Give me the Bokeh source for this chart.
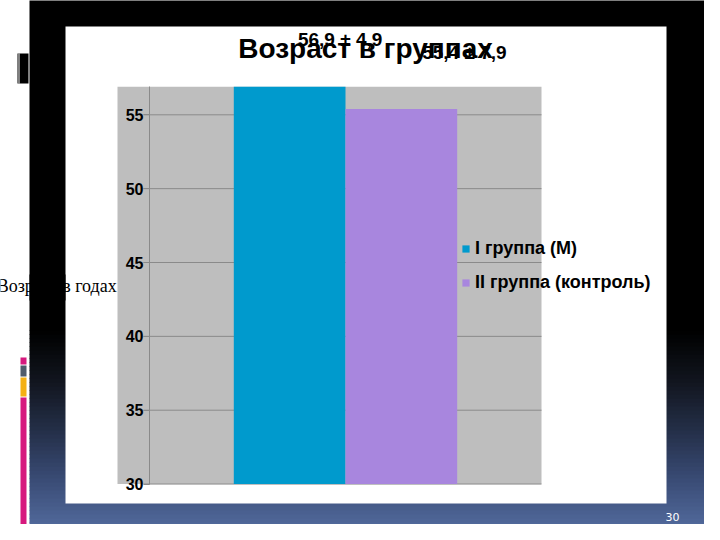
from bokeh.plotting import figure
from bokeh.models import (Range1d, LinearAxis, FixedTicker, Label, Legend, LegendItem,
                          ColumnDataSource)
from bokeh.core.properties import value
from bokeh.embed import file_html
from bokeh.resources import INLINE

# ---------------- data ----------------
groups = ["I группа (М)", "II группа (контроль)"]
mean_age = [56.9, 55.4]
value_labels = ["56,9 ± 4,9", "55,4 ± 7,9"]
bar_colors = ["#009acd", "#a886de"]
y_ticks = [30, 35, 40, 45, 50, 55]
chart_title = "Возраст в группах"
y_axis_title = "Возраст в годах"
page_number = "30"

# ---------------- layout (reference pixels) ----------------
W, H, OFF = 704, 524, 0
SX = 111.7            # px per category step
SY = 14.77            # px per year
X_ANCHOR_PX = 289.15  # centre of first category
Y_ANCHOR_PX = 114.3   # pixel of y = 55
X0 = 1 - (X_ANCHOR_PX - OFF) / SX
X1 = X0 + W / SX
Y1 = 55 + (Y_ANCHOR_PX - OFF) / SY
Y0 = Y1 - H / SY
LABEL_DX = [50.5, 63]      # label placement offsets (px)
LABEL_DY = [-47.7, -56.2]


def fx(px):
    return X0 + (px - OFF) / SX


def fy(py):
    return Y1 - (py - OFF) / SY


SANS = "Liberation Sans"

p = figure(width=W, height=H, x_range=Range1d(X0, X1), y_range=Range1d(Y0, Y1),
           x_axis_type=None, y_axis_type=None, toolbar_location=None,
           output_backend="svg", min_border=0, outline_line_color=None,
           background_fill_color="white", border_fill_color="white")

# ---------------- slide background ----------------
stops = [(0, (0, 0, 0)), (330, (0, 0, 0)), (380, (17, 21, 30)), (430, (36, 47, 72)),
         (480, (58, 76, 118)), (540, (88, 114, 166))]


def grad(y):
    for (ya, ca), (yb, cb) in zip(stops[:-1], stops[1:]):
        if ya <= y <= yb:
            t = (y - ya) / (yb - ya)
            c = [round(a + (b - a) * t) for a, b in zip(ca, cb)]
            return "#%02x%02x%02x" % tuple(c)
    return "#%02x%02x%02x" % stops[-1][1]


g_top, g_bot, g_col = [fy(-2)], [fy(330.5)], ["#000000"]
yy = 330
while yy < 526:
    g_top.append(fy(yy))
    g_bot.append(fy(min(yy + 4.6, 527)))
    g_col.append(grad(yy + 2))
    yy += 4
bg = p.quad(left=fx(29), right=fx(706), top=g_top, bottom=g_bot,
            fill_color=g_col, line_color=None)
bg.level = "image"

# left side decorations
deco = p.quad(left=[fx(17), fx(18), fx(20), fx(20), fx(20), fx(20)],
              right=[fx(28), fx(19), fx(26), fx(26), fx(26), fx(26)],
              top=[fy(53), fy(53), fy(357), fy(365), fy(377), fy(397)],
              bottom=[fy(83), fy(83), fy(364), fy(376), fy(396), fy(531)],
              fill_color=["#000000", "#ffffff", "#d6197e", "#4f5b6b", "#f4b013", "#d6197e"],
              line_color=None)
deco.level = "image"

# white chart box
box = p.quad(left=fx(65), right=fx(666), top=fy(26), bottom=fy(503),
             fill_color="white", line_color=None)
box.level = "image"

# gray plot area
plot_area = p.quad(left=fx(117), right=fx(541), top=max(mean_age), bottom=y_ticks[0],
                   fill_color="#bebebe", line_color=None)
plot_area.level = "image"

# horizontal grid lines
grid = p.segment(x0=fx(143), x1=fx(541), y0=y_ticks, y1=y_ticks,
                 line_color="#8a8a8a", line_width=1)
grid.level = "image"

# ---------------- bars ----------------
xs = list(range(1, len(groups) + 1))
src = ColumnDataSource(dict(x=xs, top=mean_age, color=bar_colors, label=value_labels,
                            name=groups, dx=LABEL_DX, dy=LABEL_DY))
bars = p.vbar(x="x", top="top", bottom=y_ticks[0], width=1.0, source=src,
              fill_color="color", line_color=None)

# value labels (as placed in the original slide)
p.text(x="x", y="top", text="label", source=src, x_offset="dx", y_offset="dy",
       text_font=value(SANS), text_font_style="bold", text_font_size="19px",
       text_color="black", text_align="center", text_baseline="middle")

# ---------------- axis ----------------
yaxis = LinearAxis(fixed_location=fx(149), bounds=(y_ticks[0], max(mean_age)),
                   ticker=FixedTicker(ticks=y_ticks), axis_label=y_axis_title,
                   axis_label_orientation="horizontal")
yaxis.axis_line_color = "#8a8a8a"
yaxis.major_tick_line_color = "#8a8a8a"
yaxis.major_tick_out = 6
yaxis.major_tick_in = 0
yaxis.minor_tick_line_color = None
yaxis.major_label_standoff = 0
yaxis.major_label_text_font = SANS
yaxis.major_label_text_font_style = "bold"
yaxis.major_label_text_font_size = "16px"
yaxis.major_label_text_color = "black"
yaxis.axis_label_text_font = "Liberation Serif"
yaxis.axis_label_text_font_style = "normal"
yaxis.axis_label_text_font_size = "18px"
yaxis.axis_label_text_color = "black"
yaxis.axis_label_standoff = 6
p.add_layout(yaxis, "left")

# part of the axis title hidden by the dark slide band
cover = p.quad(left=fx(29), right=fx(65), top=fy(274), bottom=fy(300),
               fill_color="#000000", line_color=None)
cover.level = "overlay"

# ---------------- legend ----------------
legend = Legend(items=[LegendItem(label=groups[i], renderers=[bars], index=i)
                       for i in range(len(groups))],
                location=(461, 231),
                glyph_width=9, glyph_height=9, label_standoff=5, spacing=13,
                label_height=20, padding=0, margin=0,
                border_line_color=None, background_fill_alpha=0,
                label_text_font=SANS, label_text_font_style="bold",
                label_text_font_size="18px", label_text_color="black")
p.add_layout(legend)

# ---------------- title & page number ----------------
p.add_layout(Label(x=fx(365), y=fy(48), text=chart_title, text_font=SANS,
                   text_font_style="bold", text_font_size="28px", text_color="black",
                   text_align="center", text_baseline="middle"))
p.add_layout(Label(x=fx(672), y=fy(516), text=page_number, text_font="DejaVu Sans",
                   text_font_size="11px", text_color="white",
                   text_align="center", text_baseline="middle"))

open("out.html", "w").write(file_html(p, INLINE))
